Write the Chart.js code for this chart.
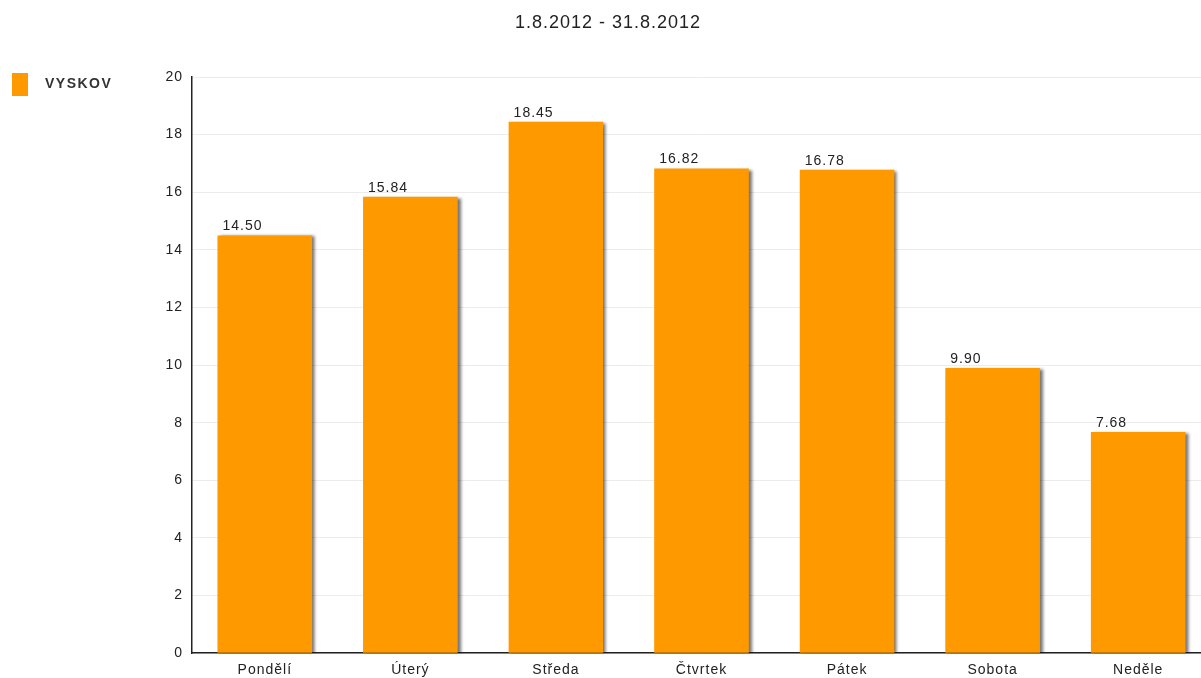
<!DOCTYPE html>
<html>
<head>
<meta charset="utf-8">
<script src="https://cdn.jsdelivr.net/npm/chart.js@4.4.1/dist/chart.umd.min.js"></script>
<style>
  body { margin: 0; background: #fff; overflow: hidden; }
  #wrap { width: 1201px; height: 678px; overflow: hidden; }
</style>
</head>
<body>
<div id="wrap"><canvas id="myChart" width="1211" height="678"></canvas></div>
<script>
const chartTitle = '1.8.2012 - 31.8.2012';
const seriesName = 'VYSKOV';
const days = ['Pondělí', 'Úterý', 'Středa', 'Čtvrtek', 'Pátek', 'Sobota', 'Neděle'];
const values = [14.50, 15.84, 18.45, 16.82, 16.78, 9.90, 7.68];
const barColor = '#ff9900';
const fontFamily = '"Liberation Sans", Arial, sans-serif';

// the old chart had wide letter spacing everywhere
const spacing = {
    id: 'spacing',
    beforeLayout(chart) { chart.ctx.letterSpacing = '1px'; },
    beforeDraw(chart) { chart.ctx.letterSpacing = '1px'; }
};

// shadow on the bars
const barShadow = {
    id: 'barShadow',
    beforeDatasetsDraw(chart) {
        const ctx = chart.ctx;
        ctx.save();
        ctx.shadowColor = 'rgba(0,0,0,0.55)';
        ctx.shadowBlur = 3;
        ctx.shadowOffsetX = 3;
        ctx.shadowOffsetY = 1;
    },
    afterDatasetsDraw(chart) {
        chart.ctx.restore();
    }
};

const valueLabels = {
    id: 'valueLabels',
    afterDatasetsDraw(chart) {
        const ctx = chart.ctx;
        const meta = chart.getDatasetMeta(0);
        ctx.save();
        ctx.font = '14px ' + fontFamily;
        ctx.fillStyle = '#222';
        ctx.textAlign = 'left';
        ctx.textBaseline = 'bottom';
        meta.data.forEach((bar, i) => {
            ctx.fillText(values[i].toFixed(2), bar.x - bar.width / 2 + 5, bar.y - 2);
        });
        ctx.restore();
    }
};

// title and legend drawn by hand so they sit where the original has them
const titleAndLegend = {
    id: 'titleAndLegend',
    afterDraw(chart) {
        const ctx = chart.ctx;
        ctx.save();
        ctx.font = '18px ' + fontFamily;
        ctx.fillStyle = '#222';
        ctx.textAlign = 'center';
        ctx.textBaseline = 'middle';
        ctx.fillText(chartTitle, 608, 23);

        ctx.fillStyle = barColor;
        ctx.fillRect(12, 73, 16, 23);
        ctx.font = 'bold 14px ' + fontFamily;
        ctx.fillStyle = '#333';
        ctx.textAlign = 'left';
        ctx.letterSpacing = '1.5px';
        ctx.fillText(seriesName, 45, 84);
        ctx.restore();
    }
};

function createChart() {
    const cfg = {
        type: 'bar',
        data: {
            labels: days,
            datasets: [{
                label: seriesName,
                data: values,
                backgroundColor: barColor,
                borderWidth: 0,
                barPercentage: 0.65,
                categoryPercentage: 1
            }]
        },
        options: {
            responsive: false,
            animation: false,
            layout: {
                padding: { left: 140, right: 0, top: 77, bottom: -2 }
            },
            plugins: {
                legend: { display: false },
                tooltip: { enabled: false },
                title: { display: false }
            },
            scales: {
                x: {
                    grid: { display: false },
                    border: { color: '#222', width: 1.5 },
                    ticks: {
                        color: '#222',
                        padding: 1,
                        font: { size: 14, family: fontFamily }
                    }
                },
                y: {
                    min: 0,
                    max: 20,
                    afterFit: function (scale) { scale.width = 52; },
                    grid: { color: '#ececec', drawTicks: false },
                    border: { color: '#222', width: 1.5 },
                    ticks: {
                        stepSize: 2,
                        color: '#222',
                        padding: 9,
                        font: { size: 14, family: fontFamily }
                    }
                }
            }
        },
        plugins: [spacing, barShadow, valueLabels, titleAndLegend]
    };
    return new Chart(document.getElementById('myChart'), cfg);
}

const chart = createChart();
</script>
</body>
</html>
